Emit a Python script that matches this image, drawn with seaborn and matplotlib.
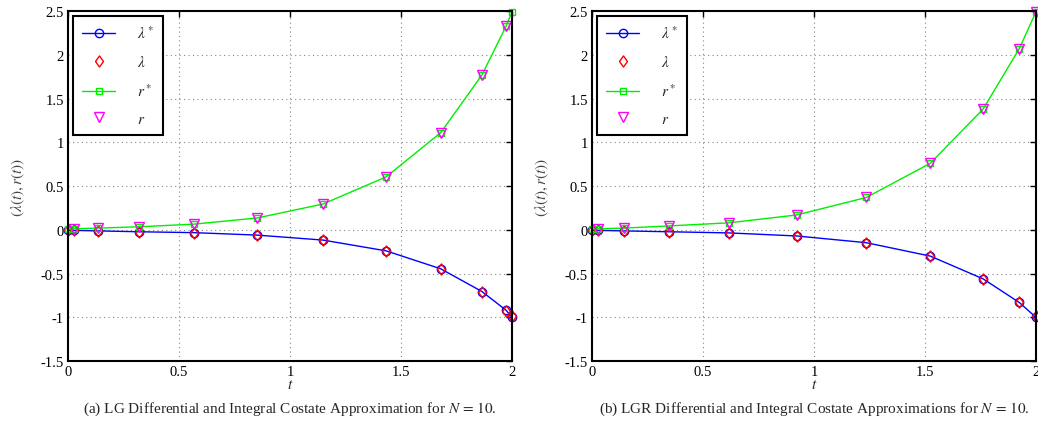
import numpy as np
import pandas as pd
import matplotlib
matplotlib.use("Agg")
import matplotlib.pyplot as plt
import seaborn as sns
from matplotlib.lines import Line2D

# LG panel (a): node times and costates
t_lg = [0.0, 0.026, 0.135, 0.321, 0.567, 0.851, 1.149, 1.433, 1.679, 1.865, 1.974, 2.0]
lam_star_lg = [-0.004, -0.006, -0.012, -0.022, -0.032, -0.06, -0.117, -0.24, -0.445, -0.705, -0.92, -1.0]
lam_lg = [-0.004, -0.006, -0.012, -0.022, -0.032, -0.06, -0.117, -0.24, -0.445, -0.705, -0.925, -0.99]
r_star_lg = [0.01, 0.012, 0.02, 0.035, 0.065, 0.135, 0.295, 0.605, 1.11, 1.77, 2.33, 2.49]
t_r_lg = [0.026, 0.135, 0.321, 0.567, 0.851, 1.149, 1.433, 1.679, 1.865, 1.974]
r_lg = [0.012, 0.02, 0.035, 0.065, 0.135, 0.295, 0.605, 1.11, 1.77, 2.33]

# LGR panel (b)
t_lgr = [0.0, 0.025, 0.146, 0.348, 0.616, 0.922, 1.236, 1.524, 1.762, 1.925, 2.0]
lam_star_lgr = [-0.004, -0.006, -0.012, -0.022, -0.035, -0.07, -0.147, -0.30, -0.56, -0.83, -1.0]
lam_lgr = [-0.004, -0.006, -0.012, -0.022, -0.035, -0.07, -0.147, -0.30, -0.56, -0.83, -0.99]
r_star_lgr = [0.01, 0.012, 0.02, 0.045, 0.08, 0.17, 0.37, 0.76, 1.38, 2.07, 2.49]
t_r_lgr = [0.025, 0.146, 0.348, 0.616, 0.922, 1.236, 1.524, 1.762, 1.925, 2.0]
r_lgr = [0.012, 0.02, 0.045, 0.08, 0.17, 0.37, 0.76, 1.38, 2.07, 2.49]

captions = [
    r"(a) LG Differential and Integral Costate Approximation for $N\,=\,10$.",
    r"(b) LGR Differential and Integral Costate Approximations for $N\,=\,10$.",
]

sns.set_theme(style="white")
plt.rcParams["font.family"] = ["Liberation Serif", "DejaVu Serif"]
plt.rcParams["mathtext.fontset"] = "stix"

fig = plt.figure(figsize=(10.38, 4.27), dpi=100)
axes = [fig.add_axes([0.0655, 0.152, 0.4277, 0.8197]),
        fig.add_axes([0.5703, 0.152, 0.4277, 0.8197])]

panels = [
    (t_lg, lam_star_lg, lam_lg, r_star_lg, t_r_lg, r_lg),
    (t_lgr, lam_star_lgr, lam_lgr, r_star_lgr, t_r_lgr, r_lgr),
]

# tall diamond, a bit narrower than high
diamond = [(-0.36, 0), (0, 0.5), (0.36, 0), (0, -0.5), (-0.36, 0)]
styles = {
    "ls": dict(color="#0000ff", marker="o", markersize=6),
    "l": dict(color="#ff0000", marker=diamond, markersize=8),
    "rs": dict(color="#00ee00", marker="s", markersize=4.5),
    "r": dict(color="#ff00ff", marker="v", markersize=7),
}

for ax, (t, ls, l, rs, tr, r), cap in zip(axes, panels, captions):
    sns.lineplot(x=t, y=ls, ax=ax, lw=1.0, markerfacecolor="none", clip_on=False,
                 markeredgecolor=styles["ls"]["color"], markeredgewidth=1.0, **styles["ls"])
    sns.lineplot(x=t, y=l, ax=ax, linestyle="none", markerfacecolor="none", clip_on=False,
                 markeredgecolor=styles["l"]["color"], markeredgewidth=1.0, **styles["l"])
    sns.lineplot(x=t, y=rs, ax=ax, lw=1.0, markerfacecolor="none", clip_on=False,
                 markeredgecolor=styles["rs"]["color"], markeredgewidth=1.0, **styles["rs"])
    sns.lineplot(x=tr, y=r, ax=ax, linestyle="none", markerfacecolor="none", clip_on=False,
                 markeredgecolor=styles["r"]["color"], markeredgewidth=1.0, **styles["r"])

    ax.set_xlim(0, 2)
    ax.set_ylim(-1.5, 2.5)
    ax.set_xticks([0, 0.5, 1, 1.5, 2])
    ax.set_xticklabels(["0", "0.5", "1", "1.5", "2"])
    ax.set_yticks(np.arange(-1.5, 2.51, 0.5))
    ax.set_yticklabels(["-1.5", "-1", "-0.5", "0", "0.5", "1", "1.5", "2", "2.5"])
    ax.grid(True, linestyle=(0, (1, 3)), color="#888888", lw=0.8)
    ax.tick_params(direction="in", length=4, width=1, top=True, right=True,
                   labelsize=10.5, colors="black", pad=3)
    for s in ax.spines.values():
        s.set_linewidth(1.5)
        s.set_color("black")
    ax.set_xlabel(r"$t$", fontsize=11, labelpad=0)
    ax.set_ylabel(r"$(\lambda(t), r(t))$", fontsize=11, color="#444444", labelpad=10)
    ax.text(0.5, -0.11, cap, transform=ax.transAxes, ha="center", va="top", fontsize=11)

    handles = [
        Line2D([], [], lw=1.0, markerfacecolor="none", **styles["ls"]),
        Line2D([], [], ls="none", markerfacecolor="none", **styles["l"]),
        Line2D([], [], lw=1.0, markerfacecolor="none", **styles["rs"]),
        Line2D([], [], ls="none", markerfacecolor="none", **styles["r"]),
    ]
    leg = ax.legend(handles, [r"$\lambda^*$", r"$\lambda$", r"$r^*$", r"$r$"], loc="upper left",
                    fontsize=11, fancybox=False, framealpha=1, edgecolor="black",
                    handlelength=2.2, handletextpad=1.4, labelspacing=0.85,
                    borderpad=0.6, borderaxespad=0.3)
    leg.get_frame().set_linewidth(1.5)
    leg.set_zorder(5)

fig.savefig("out.png", dpi=100)
